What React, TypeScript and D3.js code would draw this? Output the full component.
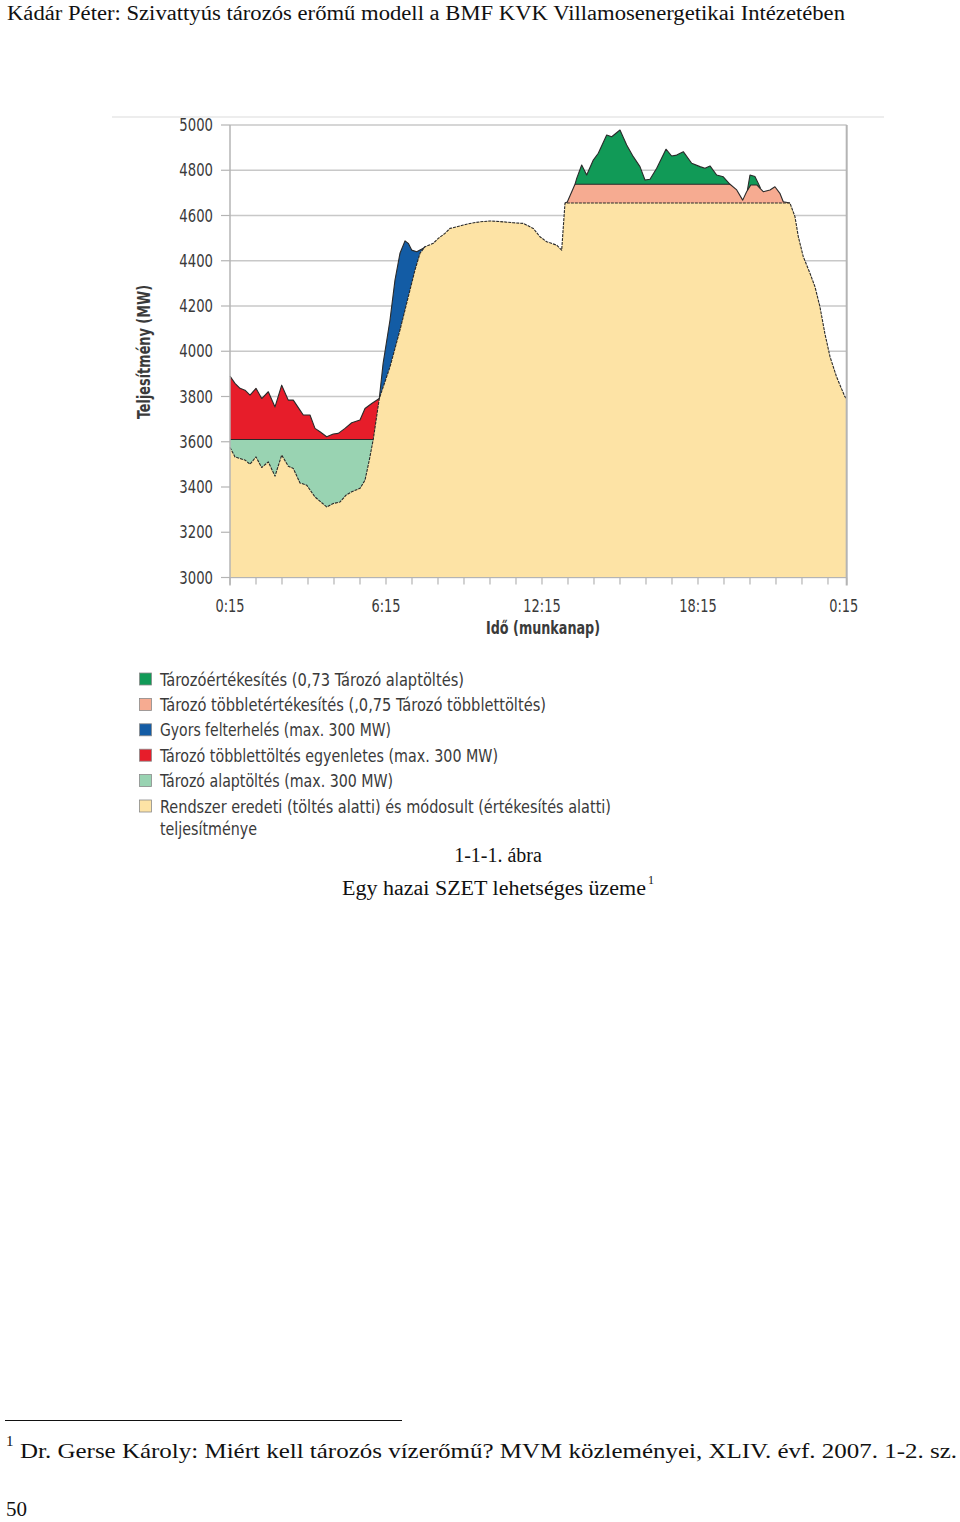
import React from 'react';
import * as d3 from 'd3';

// ---------------- DATA (hours after 0:15, MW) ----------------
// System load (beige top): original load during charging, modified load during sales
const baseHours = [0, 0.192, 0.385, 0.577, 0.769, 1.0, 1.219, 1.473, 1.731, 1.988, 2.242, 2.435, 2.692, 2.95, 3.269, 3.719, 3.973, 4.231, 4.462, 4.681, 5.0, 5.192, 5.358, 5.512, 5.742, 6.154, 6.538, 6.858, 7.115, 7.308, 7.5, 7.819, 8.012, 8.269, 8.462, 8.719, 8.973, 9.231, 9.615, 10.0, 10.512, 10.896, 11.281, 11.665, 11.923, 12.181, 12.565, 12.758, 12.885, 21.538, 21.73, 21.86, 22.05, 22.31, 22.5, 22.69, 22.88, 23.08, 23.33, 23.65, 23.72];
const baseMW = [3575, 3533, 3526, 3519, 3501, 3533, 3486, 3511, 3448, 3541, 3492, 3482, 3418, 3408, 3356, 3312, 3327, 3334, 3364, 3379, 3394, 3430, 3519, 3612, 3791, 3931, 4094, 4241, 4359, 4433, 4462, 4477, 4499, 4521, 4543, 4550, 4558, 4565, 4572, 4576, 4572, 4568, 4565, 4543, 4506, 4484, 4469, 4447, 4655, 4655, 4595, 4506, 4418, 4344, 4285, 4197, 4079, 3975, 3887, 3799, 3790];

// Base charging level (Tározó alaptöltés upper edge)
const chargeLevel = 3610;
const chargeEndHour = 5.512;

// Extra charging (red) upper edge
const redHours = [0, 0.192, 0.385, 0.577, 0.769, 1.0, 1.219, 1.473, 1.731, 1.988, 2.242, 2.435, 2.692, 2.819, 3.077, 3.269, 3.462, 3.719, 3.973, 4.165, 4.423, 4.681, 5.0, 5.192, 5.45, 5.742];
const redMW = [3890, 3858, 3836, 3828, 3806, 3836, 3791, 3821, 3754, 3850, 3784, 3784, 3740, 3718, 3718, 3659, 3644, 3622, 3634, 3637, 3659, 3684, 3696, 3747, 3769, 3791];

// Fast load-up (blue) upper edge
const blueHours = [5.742, 5.888, 6.154, 6.346, 6.538, 6.731, 6.858, 6.988, 7.181, 7.435, 7.5];
const blueMW = [3791, 3946, 4138, 4315, 4433, 4488, 4477, 4447, 4440, 4455, 4462];

// Extra sales (salmon) upper edge
const salmonHours = [12.885, 12.973, 13.27, 19.231, 19.49, 19.72, 19.87, 20.03, 20.26, 20.51, 20.77, 20.96, 21.15, 21.28, 21.538];
const salmonMW = [4655, 4660, 4738, 4738, 4713, 4668, 4705, 4735, 4735, 4705, 4713, 4727, 4698, 4661, 4655];

// Storage sales (green) upper edge, two parts
const greenHours = [13.27, 13.335, 13.527, 13.719, 13.973, 14.165, 14.488, 14.681, 15.0, 15.258, 15.512, 15.769, 15.962, 16.154, 16.412, 16.769, 16.988, 17.181, 17.435, 17.758, 18.077, 18.269, 18.462, 18.719, 18.973, 19.231];
const greenMW = [4738, 4764, 4823, 4779, 4845, 4875, 4956, 4948, 4978, 4912, 4860, 4816, 4757, 4760, 4809, 4893, 4863, 4867, 4882, 4831, 4816, 4809, 4819, 4779, 4771, 4738];
const green2Hours = [19.9, 20.0, 20.19, 20.32, 20.4];
const green2MW = [4711, 4779, 4772, 4742, 4722];

// Axis ticks
const yTicks = [3000, 3200, 3400, 3600, 3800, 4000, 4200, 4400, 4600, 4800, 5000];
const xEndHour = 23.72;
const xTickHours = [0, 6, 12, 18, 23.72];
const xTickLabels = ['0:15', '6:15', '12:15', '18:15', '0:15'];

// Legend
const legendLabels = [
  'Tározóértékesítés (0,73 Tározó alaptöltés)',
  'Tározó többletértékesítés (,0,75 Tározó többlettöltés)',
  'Gyors felterhelés (max. 300 MW)',
  'Tározó többlettöltés egyenletes (max. 300 MW)',
  'Tározó alaptöltés (max. 300 MW)',
  'Rendszer eredeti (töltés alatti) és módosult (értékesítés alatti)',
];
const legendExtraLine = 'teljesítménye';

// ---------------- STYLE ----------------
const C = {
  green: '#119a57',
  salmon: '#f6ab91',
  blue: '#135ca5',
  red: '#e71d2a',
  lightGreen: '#99d3b2',
  beige: '#fde3a5',
};
const legendColors = [C.green, C.salmon, C.blue, C.red, C.lightGreen, C.beige];
const legendWidths = [304, 386, 231, 338, 233, 451];
const sansC = "'DejaVu Sans Condensed', 'DejaVu Sans', sans-serif";
const serif = "'Liberation Serif', 'Times New Roman', serif";

const zip = (h: number[], v: number[]) => h.map((d, i) => [d, v[i]] as [number, number]);

export default function App() {
  const x = d3.scaleLinear().domain([0, xEndHour]).range([230, 846.7]);
  const y = d3.scaleLinear().domain([3000, 5000]).range([577.5, 125]);
  const y0 = y(3000);

  const areaFrom = (base: number | null) =>
    d3
      .area<[number, number]>()
      .x((d) => x(d[0]))
      .y0(base === null ? y0 : y(base))
      .y1((d) => y(d[1]));
  const line = d3
    .line<[number, number]>()
    .x((d) => x(d[0]))
    .y((d) => y(d[1]));

  const base = zip(baseHours, baseMW);
  const red = zip(redHours, redMW);
  const blue = zip(blueHours, blueMW);
  const salmon = zip(salmonHours, salmonMW);
  const green = zip(greenHours, greenMW);
  const green2 = zip(green2Hours, green2MW);
  const chargeRect = redHours.map((h) => [h, chargeLevel] as [number, number]);

  const stroke = '#2a2a2a';
  const gridColor = '#c8c8c8';
  const axisColor = '#b4b4b4';
  const textColor = '#3a3a3a';

  const hourTicks = d3.range(0, 24).filter((h) => h <= xEndHour).concat([xEndHour]);

  return (
    <svg
      width={960}
      height={1522}
      style={{ position: 'absolute', left: 0, top: 0, background: '#fff' }}
    >
      {/* header */}
      <text x={7} y={20} fontFamily={serif} fontSize={20.5} fill="#111" textLength={838} lengthAdjust="spacingAndGlyphs">
        Kádár Péter: Szivattyús tározós erőmű modell a BMF KVK Villamosenergetikai Intézetében
      </text>

      {/* figure top rule */}
      <line x1={112} x2={884} y1={117} y2={117} stroke="#dcdcdc" strokeWidth={1.2} />

      {/* grid */}
      {yTicks.map((t) => (
        <line key={'g' + t} x1={x(0)} x2={x(xEndHour)} y1={y(t)} y2={y(t)} stroke={gridColor} strokeWidth={1.4} />
      ))}

      {/* fills */}
      <path d={areaFrom(chargeLevel)(red) || ''} fill={C.red} />
      <path d={areaFrom(null)(green) || ''} fill={C.green} />
      <path d={areaFrom(null)(green2) || ''} fill={C.green} />
      <path d={areaFrom(null)(salmon) || ''} fill={C.salmon} />
      <path d={areaFrom(null)(blue) || ''} fill={C.blue} />
      <path d={areaFrom(null)(chargeRect) || ''} fill={C.lightGreen} />
      <path d={areaFrom(null)(base) || ''} fill={C.beige} />

      {/* outlines */}
      <g fill="none" stroke={stroke} strokeWidth={1.1} strokeLinejoin="round">
        <path d={line(red) || ''} />
        <path d={line(green) || ''} />
        <path d={line(green2) || ''} />
        <path d={line(salmon) || ''} />
        <path d={line(blue) || ''} />
        <line x1={x(0)} x2={x(chargeEndHour)} y1={y(chargeLevel)} y2={y(chargeLevel)} />
        <path d={line(base) || ''} strokeDasharray="3 1" />
      </g>

      {/* frame / axes */}
      <line x1={x(xEndHour)} x2={x(xEndHour)} y1={y(5000)} y2={y(3000) + 8} stroke={axisColor} strokeWidth={2} />
      <line x1={x(0)} x2={x(0)} y1={y(5000)} y2={y(3000) + 8} stroke={axisColor} strokeWidth={1.5} />
      <line x1={x(0)} x2={x(xEndHour)} y1={y(3000)} y2={y(3000)} stroke={axisColor} strokeWidth={1.2} />

      {yTicks.map((t) => (
        <g key={'yt' + t}>
          <line x1={x(0) - 9} x2={x(0)} y1={y(t)} y2={y(t)} stroke={axisColor} strokeWidth={1.2} />
          <g transform={`translate(213,${y(t) + 6}) scale(0.84,1)`}>
            <text textAnchor="end" fontFamily={sansC} fontSize={17.5} fill={textColor}>
              {t}
            </text>
          </g>
        </g>
      ))}

      {hourTicks.map((h, i) => (
        <line key={'xt' + i} x1={x(h)} x2={x(h)} y1={y(3000)} y2={y(3000) + 7} stroke={axisColor} strokeWidth={1.2} />
      ))}
      {xTickHours.map((h, i) => (
        <g key={'xl' + i} transform={`translate(${x(h) - (i === xTickHours.length - 1 ? 3 : 0)},${612}) scale(0.8,1)`}>
          <text textAnchor="middle" fontFamily={sansC} fontSize={18} fill={textColor}>
            {xTickLabels[i]}
          </text>
        </g>
      ))}

      {/* axis titles */}
      <text x={543} y={634} textAnchor="middle" fontFamily={sansC} fontSize={18} fontWeight={600} fill={textColor} textLength={114} lengthAdjust="spacingAndGlyphs">
        Idő (munkanap)
      </text>
      <text
        transform="translate(150,352) rotate(-90)"
        textAnchor="middle"
        fontFamily={sansC}
        fontSize={17}
        fontWeight={600}
        fill={textColor}
        textLength={134}
        lengthAdjust="spacingAndGlyphs"
      >
        Teljesítmény (MW)
      </text>

      {/* legend */}
      {legendLabels.map((lab, i) => {
        const cy = 679 + i * 25.4;
        return (
          <g key={'lg' + i}>
            <rect x={139.5} y={cy - 6} width={12} height={12} fill={legendColors[i]} stroke="#8a8a8a" strokeWidth={0.8} />
            <text x={160} y={cy + 6.5} fontFamily={sansC} fontSize={18} fill={textColor} textLength={legendWidths[i]} lengthAdjust="spacingAndGlyphs">
              {lab}
            </text>
          </g>
        );
      })}
      <text x={160} y={679 + 5 * 25.4 + 28.5} fontFamily={sansC} fontSize={18} fill={textColor} textLength={97} lengthAdjust="spacingAndGlyphs">
        {legendExtraLine}
      </text>

      {/* caption */}
      <text x={498} y={862} textAnchor="middle" fontFamily={serif} fontSize={20} fill="#111">
        1-1-1. ábra
      </text>
      <text x={342} y={895} fontFamily={serif} fontSize={20} fill="#111" textLength={304} lengthAdjust="spacingAndGlyphs">
        Egy hazai SZET lehetséges üzeme
      </text>
      <text x={648} y={884} fontFamily={serif} fontSize={12} fill="#111">
        1
      </text>

      {/* footnote */}
      <line x1={5} x2={402} y1={1420.5} y2={1420.5} stroke="#111" strokeWidth={1} />
      <text x={6} y={1446} fontFamily={serif} fontSize={15} fill="#111">
        1
      </text>
      <text x={20} y={1458} fontFamily={serif} fontSize={22} fill="#111" textLength={937} lengthAdjust="spacingAndGlyphs">
        Dr. Gerse Károly: Miért kell tározós vízerőmű? MVM közleményei, XLIV. évf. 2007. 1-2. sz.
      </text>
      <text x={6} y={1516} fontFamily={serif} fontSize={21} fill="#111">
        50
      </text>
    </svg>
  );
}
